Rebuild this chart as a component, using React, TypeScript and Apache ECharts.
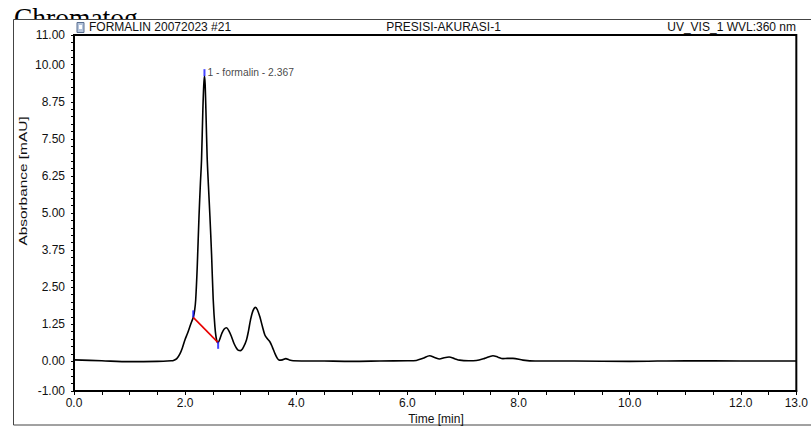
import React, { useEffect, useRef } from "react";
import * as echarts from "echarts";

const times = [
  0, 0.5, 1.0, 1.5, 1.75, 1.79, 1.85, 1.906, 1.95, 1.996, 2.04, 2.074, 2.11, 2.146, 2.17, 2.19, 2.218, 2.25, 2.275,
  2.295, 2.319, 2.335, 2.348, 2.36, 2.374, 2.396, 2.42, 2.446, 2.476, 2.505, 2.536, 2.566, 2.594, 2.63, 2.66, 2.7,
  2.744, 2.79, 2.835, 2.88, 2.925, 2.96, 2.997, 3.05, 3.104, 3.14, 3.176, 3.22, 3.267, 3.3, 3.345, 3.39, 3.435, 3.48,
  3.525, 3.57, 3.615, 3.66, 3.692, 3.75, 3.813, 3.87, 3.945, 4.5, 5.0, 5.5, 6.0, 6.16, 6.28, 6.4, 6.49, 6.58, 6.66,
  6.75, 6.85, 6.94, 7.1, 7.24, 7.39, 7.54, 7.63, 7.72, 7.8, 7.9, 8.08, 8.3, 9.0, 10.0, 11.0, 12.0, 13.0,
];
const absorbance = [
  0.05, 0.02, -0.01, 0.0, 0.02, 0.03, 0.09, 0.25, 0.45, 0.72, 0.93, 1.11, 1.3, 1.48, 1.7, 2.07, 3.19, 4.9, 6.0,
  6.78, 8.47, 9.3, 9.62, 9.35, 8.47, 6.9, 5.9, 4.9, 3.6, 2.1, 1.17, 0.72, 0.63, 0.78, 0.94, 1.08,
  1.13, 1.02, 0.83, 0.6, 0.44, 0.37, 0.36, 0.48, 0.72, 1.02, 1.39, 1.7, 1.82, 1.74, 1.5, 1.18, 0.89, 0.76,
  0.66, 0.48, 0.27, 0.1, 0.04, 0.05, 0.09, 0.05, 0.02, 0.01, 0.0, 0.01, 0.02, 0.03, 0.1, 0.19, 0.13, 0.08, 0.12,
  0.145, 0.09, 0.04, 0.02, 0.03, 0.1, 0.19, 0.14, 0.09, 0.1, 0.1, 0.04, 0.01, 0.01, 0.0, 0.02, 0.01, 0.01,
];

const peakBaseline = [
  [2.146, 1.48],
  [2.594, 0.63],
];
const peakMarkers = [
  [2.348, 9.73],
  [2.146, 1.6],
  [2.594, 0.54],
];
const peakLabel = "1 - formalin - 2.367";

const xLabelValues = [0, 2, 4, 6, 8, 10, 12, 13];
const yLabelValues = [-1, 0, 1.25, 2.5, 3.75, 5, 6.25, 7.5, 8.75, 10, 11];

const headerLeft = "FORMALIN 20072023 #21";
const headerCenter = "PRESISI-AKURASI-1";
const headerRight = "UV_VIS_1 WVL:360 nm";
const yTitle = "Absorbance [mAU]";
const xTitle = "Time [min]";
const pageTitle = "Chromatog";

const FONT = "'Liberation Sans', Arial, sans-serif";

export default function App() {
  const ref = useRef<HTMLDivElement>(null);
  useEffect(() => {
    if (!ref.current) return;
    const chart = echarts.init(ref.current, null, { renderer: "svg" });
    const trace = times.map((t, i) => [t, absorbance[i]]);
    chart.setOption({
      animation: false,
      backgroundColor: "#fff",
      grid: {
        left: 74,
        right: 14,
        top: 35,
        bottom: 35,
        show: true,
        borderColor: "#000",
        borderWidth: 2,
        backgroundColor: "transparent",
      },
      xAxis: {
        type: "value",
        min: 0,
        max: 13,
        interval: 0.5,
        axisLine: { show: true, onZero: false, lineStyle: { color: "#000", width: 2 } },
        axisTick: { show: true, length: 4, lineStyle: { color: "#000", width: 1 } },
        axisLabel: {
          customValues: xLabelValues,
          formatter: (v: number) => v.toFixed(1),
          fontSize: 12,
          fontFamily: FONT,
          color: "#111",
          margin: 6,
          hideOverlap: false,
        },
        splitLine: { show: false },
      },
      yAxis: {
        type: "value",
        min: -1,
        max: 11,
        interval: 0.25,
        axisLine: { show: true, onZero: false, lineStyle: { color: "#000", width: 2 } },
        axisTick: { show: true, length: 3, lineStyle: { color: "#000", width: 1 } },
        axisLabel: {
          customValues: yLabelValues,
          formatter: (v: number) => v.toFixed(2),
          fontSize: 12,
          fontFamily: FONT,
          color: "#111",
          margin: 9,
          hideOverlap: false,
        },
        splitLine: { show: false },
      },
      series: [
        {
          type: "line",
          data: trace,
          showSymbol: false,
          symbol: "none",
          smooth: 0.3,
          lineStyle: { color: "#000", width: 1.6 },
          z: 3,
        },
        {
          type: "line",
          data: peakBaseline,
          symbol: "none",
          lineStyle: { color: "#e80000", width: 1.6 },
          z: 4,
        },
        {
          type: "scatter",
          symbol: "rect",
          symbolSize: [2, 7],
          itemStyle: { color: "#1515ff" },
          z: 5,
          data: peakMarkers.map((p, i) =>
            i === 0
              ? {
                  value: p,
                  label: {
                    show: true,
                    position: "right",
                    distance: 2,
                    formatter: peakLabel,
                    fontSize: 10.3,
                    fontFamily: FONT,
                    color: "#111",
                  },
                }
              : { value: p }
          ),
        },
      ],
      graphic: [
        {
          type: "text",
          z: -10,
          x: 14,
          y: 31,
          style: {
            text: pageTitle,
            font: "27.5px 'Liberation Serif', 'Times New Roman', serif",
            fill: "#000",
            verticalAlign: "bottom",
          },
        },
        {
          type: "rect",
          z: -5,
          shape: { x: 13.5, y: 19.5, width: 820, height: 405.5 },
          style: { fill: "#fff", stroke: "#444", lineWidth: 1 },
        },
        {
          type: "rect",
          z: 1,
          shape: { x: 77, y: 22.5, width: 7, height: 10 },
          style: { fill: "#b4c4dc", stroke: "#5a6f90", lineWidth: 1 },
        },
        {
          type: "rect",
          z: 2,
          shape: { x: 79, y: 25, width: 3, height: 4 },
          style: { fill: "#ffffff", stroke: "none" },
        },
        {
          type: "text",
          z: 1,
          x: 89,
          y: 27,
          style: { text: headerLeft, font: "12px " + FONT, fill: "#111", align: "left", verticalAlign: "middle" },
        },
        {
          type: "text",
          z: 1,
          x: 443.5,
          y: 27,
          style: { text: headerCenter, font: "12px " + FONT, fill: "#111", align: "center", verticalAlign: "middle" },
        },
        {
          type: "text",
          z: 1,
          x: 796,
          y: 27,
          style: { text: headerRight, font: "12px " + FONT, fill: "#111", align: "right", verticalAlign: "middle" },
        },
        {
          type: "text",
          z: 1,
          x: 23,
          y: 181,
          rotation: Math.PI / 2,
          scaleX: 1.4,
          style: { text: yTitle, font: "11px " + FONT, fill: "#111", align: "center", verticalAlign: "middle" },
        },
        {
          type: "text",
          z: 1,
          x: 436,
          y: 419,
          style: { text: xTitle, font: "12px " + FONT, fill: "#111", align: "center", verticalAlign: "middle" },
        },
      ],
    });
    return () => chart.dispose();
  }, []);
  return <div ref={ref} style={{ position: "fixed", left: 0, top: 0, width: 811, height: 426 }} />;
}
